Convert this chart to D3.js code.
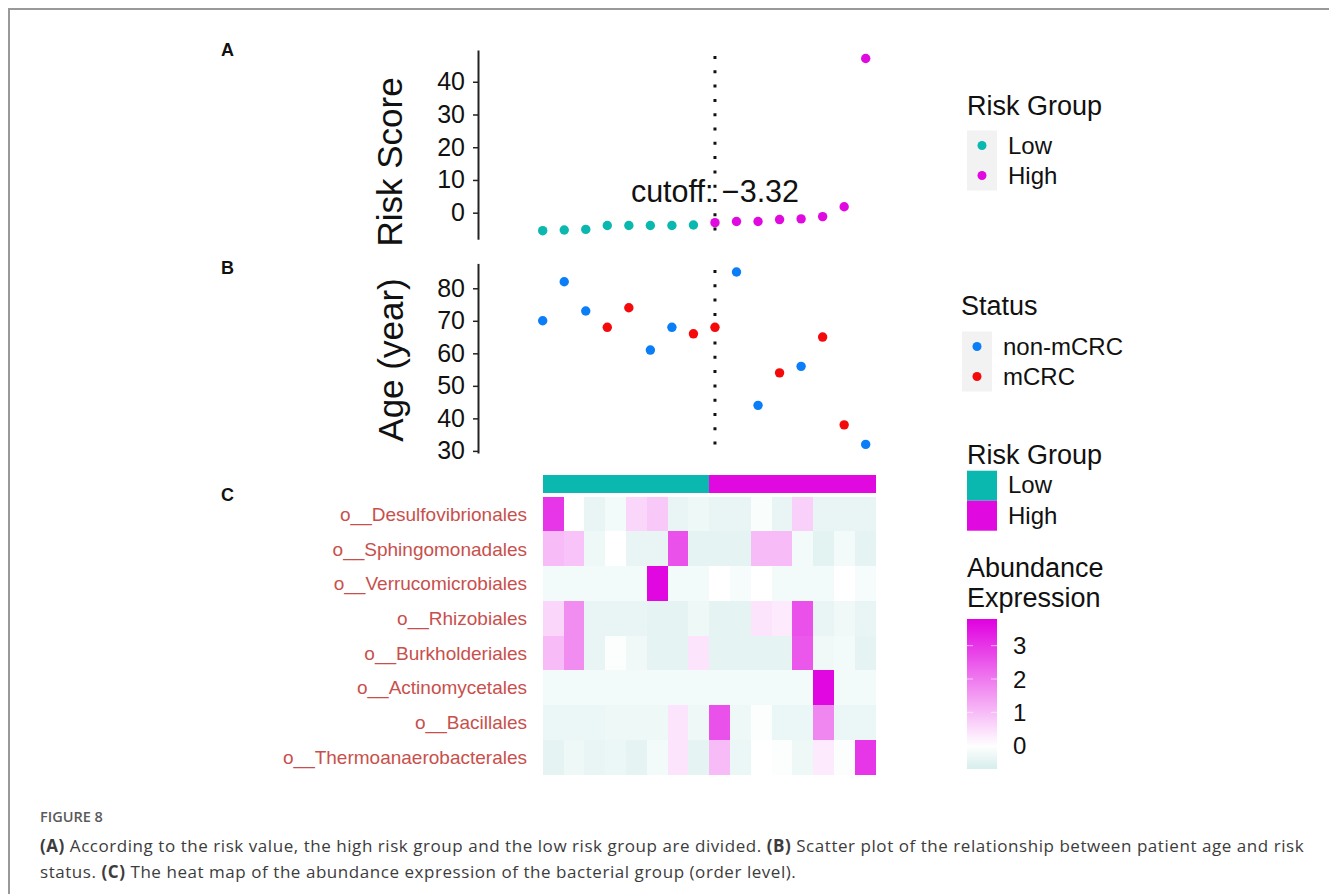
<!DOCTYPE html>
<html lang="en">
<head>
    <meta charset="UTF-8">
    <title>Figure 8 - Risk score, age and abundance heat map</title>
    <script src="https://d3js.org/d3.v7.min.js"></script>
    <style>
        body {
            margin: 0;
            background: #fff;
            font-family: "Liberation Sans", Arial, sans-serif;
        }
        .caption {
            font-family: "Open Sans", sans-serif;
        }
    </style>
</head>
<body>
    <div id="chart"></div>

    <script>
        // Samples ordered by risk score
        const riskScore = [-5.5, -5.3, -5.1, -3.9, -3.9, -3.9, -3.9, -3.75, -3.05, -2.7, -2.7, -2.1, -1.9, -1.2, 1.8, 47.1];
        const riskGroup = ["Low", "Low", "Low", "Low", "Low", "Low", "Low", "Low",
                           "High", "High", "High", "High", "High", "High", "High", "High"];
        const age = [70, 82, 73, 68, 74, 61, 68, 66, 68, 85, 44, 54, 56, 65, 38, 32];
        const status = ["non-mCRC", "non-mCRC", "non-mCRC", "mCRC", "mCRC", "non-mCRC", "non-mCRC", "mCRC",
                        "mCRC", "non-mCRC", "non-mCRC", "mCRC", "non-mCRC", "mCRC", "mCRC", "non-mCRC"];
        const cutoffValue = -3.32;
        const cutoffSample = 9;

        const riskTicks = [0, 10, 20, 30, 40];
        const ageTicks = [30, 40, 50, 60, 70, 80];
        const abundanceTicks = [0, 1, 2, 3];

        const taxa = ["o__Desulfovibrionales", "o__Sphingomonadales", "o__Verrucomicrobiales", "o__Rhizobiales",
                      "o__Burkholderiales", "o__Actinomycetales", "o__Bacillales", "o__Thermoanaerobacterales"];
        const abundance = [
            [3.0, 0.0, -0.4, -0.2, 0.6, 0.8, -0.4, -0.3, -0.4, -0.4, -0.1, -0.4, 0.7, -0.4, -0.4, -0.4],
            [1.0, 0.9, -0.3, 0.0, -0.4, -0.4, 2.6, -0.45, -0.45, -0.45, 1.0, 1.0, -0.2, -0.5, -0.2, -0.45],
            [-0.2, -0.2, -0.2, -0.2, -0.2, 3.7, -0.2, -0.2, 0.0, -0.15, 0.0, -0.2, -0.2, -0.2, 0.0, -0.15],
            [0.6, 1.7, -0.4, -0.4, -0.4, -0.45, -0.45, -0.3, -0.45, -0.45, 0.4, 0.3, 2.6, -0.4, -0.25, -0.4],
            [1.0, 1.7, -0.4, -0.05, -0.25, -0.45, -0.45, 0.4, -0.45, -0.45, -0.45, -0.45, 2.5, -0.25, -0.2, -0.45],
            [-0.2, -0.2, -0.2, -0.2, -0.2, -0.2, -0.2, -0.2, -0.2, -0.2, -0.2, -0.2, -0.2, 3.7, -0.2, -0.2],
            [-0.35, -0.35, -0.35, -0.3, -0.3, -0.3, 0.4, -0.3, 2.6, -0.3, -0.05, -0.35, -0.35, 1.8, -0.35, -0.35],
            [-0.45, -0.3, -0.4, -0.35, -0.45, -0.2, 0.4, -0.45, 1.0, -0.35, 0.0, -0.05, -0.3, 0.3, -0.05, 3.0]
        ];

        const samples = d3.range(1, riskScore.length + 1);

        const width = 1329;
        const height = 894;
        const groupColor = d3.scaleOrdinal().domain(["Low", "High"]).range(["#0bb8b0", "#e00ae0"]);
        const statusColor = d3.scaleOrdinal().domain(["non-mCRC", "mCRC"]).range(["#0a7ef6", "#f40a0a"]);
        const heatColor = d3.scaleLinear().domain([-0.7, 0, 3.8]).range(["#d6eeec", "#ffffff", "#e000e0"]);

        const svg = d3.select("#chart")
            .append("svg")
            .attr("width", width)
            .attr("height", height);

        svg.append("rect").attr("width", width).attr("height", height).attr("fill", "#fff");

        // figure frame (top + left)
        svg.append("path")
            .attr("d", `M9,${height} V9 H${width}`)
            .attr("fill", "none")
            .attr("stroke", "#999")
            .attr("stroke-width", 2);

        const axisX = 478;
        const x = d3.scaleLinear().domain([1, 16]).range([542.7, 865.7]);

        // ---------- panel A ----------
        const yRisk = d3.scaleLinear().domain([-8.1, 49.7]).range([239.2, 50]);

        const axisA = svg.append("g")
            .attr("transform", `translate(${axisX},0)`)
            .call(d3.axisLeft(yRisk).tickValues(riskTicks).tickSize(5).tickPadding(8).tickSizeOuter(0));

        svg.append("line")
            .attr("x1", x(cutoffSample)).attr("x2", x(cutoffSample))
            .attr("y1", 56).attr("y2", 240)
            .attr("stroke", "#111").attr("stroke-width", 3)
            .attr("stroke-dasharray", "3,11.3");

        svg.append("text")
            .attr("x", x(cutoffSample))
            .attr("y", 201.5)
            .attr("text-anchor", "middle")
            .attr("font-size", 30.5)
            .attr("fill", "#111")
            .text(`cutoff: ${cutoffValue}`.replace("-", "\u2212"));

        svg.append("g").selectAll("circle")
            .data(samples)
            .join("circle")
            .attr("cx", d => x(d))
            .attr("cy", d => yRisk(riskScore[d - 1]))
            .attr("r", 4.7)
            .attr("fill", d => groupColor(riskGroup[d - 1]));

        svg.append("text")
            .attr("transform", "translate(402,162) rotate(-90)")
            .attr("text-anchor", "middle")
            .attr("font-size", 35)
            .attr("fill", "#111")
            .text("Risk Score");

        // ---------- panel B ----------
        const yAge = d3.scaleLinear().domain([29.35, 87.65]).range([453, 263.4]);

        const axisB = svg.append("g")
            .attr("transform", `translate(${axisX},0)`)
            .call(d3.axisLeft(yAge).tickValues(ageTicks).tickSize(5).tickPadding(8).tickSizeOuter(0));

        [axisA, axisB].forEach(a => {
            a.select(".domain").attr("stroke", "#222").attr("stroke-width", 2);
            a.selectAll(".tick line").attr("stroke", "#222").attr("stroke-width", 1.5);
            a.selectAll(".tick text").attr("font-size", 25).attr("fill", "#111")
                .attr("font-family", "Liberation Sans, Arial, sans-serif");
        });

        svg.append("line")
            .attr("x1", x(cutoffSample)).attr("x2", x(cutoffSample))
            .attr("y1", 270).attr("y2", 453)
            .attr("stroke", "#111").attr("stroke-width", 3)
            .attr("stroke-dasharray", "3,11.3");

        svg.append("g").selectAll("circle")
            .data(samples)
            .join("circle")
            .attr("cx", d => x(d))
            .attr("cy", d => yAge(age[d - 1]))
            .attr("r", 4.7)
            .attr("fill", d => statusColor(status[d - 1]));

        svg.append("text")
            .attr("transform", "translate(403,360) rotate(-90)")
            .attr("text-anchor", "middle")
            .attr("font-size", 35)
            .attr("fill", "#111")
            .text("Age (year)");

        // ---------- panel C: heat map ----------
        const col = d3.scaleBand().domain(samples).range([542.7, 875.7]);
        const row = d3.scaleBand().domain(taxa).range([496.7, 774.3]);

        svg.append("g").attr("shape-rendering", "crispEdges").selectAll("rect")
            .data(samples)
            .join("rect")
            .attr("x", d => col(d))
            .attr("y", 475)
            .attr("width", col.bandwidth() + 0.6)
            .attr("height", 17.7)
            .attr("fill", d => groupColor(riskGroup[d - 1]));

        const cells = [];
        taxa.forEach((t, i) => samples.forEach((s, j) => cells.push({ t, s, v: abundance[i][j] })));

        svg.append("g").attr("shape-rendering", "crispEdges").selectAll("rect")
            .data(cells)
            .join("rect")
            .attr("x", d => col(d.s))
            .attr("y", d => row(d.t))
            .attr("width", col.bandwidth() + 0.6)
            .attr("height", row.bandwidth() + 0.6)
            .attr("fill", d => heatColor(d.v));

        svg.append("g").selectAll("text")
            .data(taxa)
            .join("text")
            .attr("x", 527)
            .attr("y", d => row(d) + row.bandwidth() / 2)
            .attr("dy", "0.36em")
            .attr("text-anchor", "end")
            .attr("font-size", 19)
            .attr("fill", "#c8504c")
            .text(d => d);

        // ---------- panel letters ----------
        [["A", 50], ["B", 268], ["C", 495]].forEach(([l, y]) => {
            svg.append("text")
                .attr("x", 221).attr("y", y).attr("dy", "0.36em")
                .attr("font-size", 18).attr("font-weight", "bold").attr("fill", "#111")
                .text(l);
        });

        // ---------- legends ----------
        function pointLegend(title, titleX, titleY, keyX, keyY, domain, color) {
            const g = svg.append("g");
            g.append("text").attr("x", titleX).attr("y", titleY)
                .attr("font-size", 27).attr("fill", "#111").text(title);
            g.append("rect").attr("x", keyX).attr("y", keyY).attr("width", 30).attr("height", 60)
                .attr("fill", "#f2f2f2");
            domain.forEach((d, i) => {
                g.append("circle").attr("cx", keyX + 15).attr("cy", keyY + 15 + i * 30)
                    .attr("r", 4.5).attr("fill", color(d));
                g.append("text").attr("x", keyX + 41).attr("y", keyY + 15 + i * 30).attr("dy", "0.36em")
                    .attr("font-size", 24).attr("fill", "#111").text(d);
            });
        }
        pointLegend("Risk Group", 967, 115, 967, 130.5, groupColor.domain(), groupColor);
        pointLegend("Status", 961, 315, 962, 331.5, statusColor.domain(), statusColor);

        // heat map annotation legend
        const lg = svg.append("g");
        lg.append("text").attr("x", 967).attr("y", 464).attr("font-size", 27).attr("fill", "#111").text("Risk Group");
        groupColor.domain().forEach((d, i) => {
            lg.append("rect").attr("x", 967).attr("y", 470.7 + i * 30).attr("width", 30).attr("height", 30)
                .attr("fill", groupColor(d));
            lg.append("text").attr("x", 1008).attr("y", 484.5 + i * 31).attr("dy", "0.36em")
                .attr("font-size", 24).attr("fill", "#111").text(d);
        });

        // colour bar
        lg.append("text").attr("x", 967).attr("y", 577).attr("font-size", 27).attr("fill", "#111").text("Abundance");
        lg.append("text").attr("x", 967).attr("y", 607).attr("font-size", 27).attr("fill", "#111").text("Expression");

        const yBar = d3.scaleLinear().domain([-0.7, 3.8]).range([769, 619]);
        const grad = svg.append("defs").append("linearGradient")
            .attr("id", "heatGrad").attr("x1", 0).attr("y1", 1).attr("x2", 0).attr("y2", 0);
        d3.range(0, 1.0001, 0.05).forEach(t => {
            const v = -0.7 + t * 4.5;
            grad.append("stop").attr("offset", t).attr("stop-color", heatColor(v));
        });
        lg.append("rect").attr("x", 967).attr("y", 619).attr("width", 30).attr("height", 150)
            .attr("fill", "url(#heatGrad)");
        abundanceTicks.forEach(t => {
            lg.append("line").attr("x1", 967).attr("x2", 973).attr("y1", yBar(t)).attr("y2", yBar(t))
                .attr("stroke", "#fff").attr("stroke-opacity", 0.6);
            lg.append("line").attr("x1", 991).attr("x2", 997).attr("y1", yBar(t)).attr("y2", yBar(t))
                .attr("stroke", "#fff").attr("stroke-opacity", 0.6);
            lg.append("text").attr("x", 1013).attr("y", yBar(t)).attr("dy", "0.36em")
                .attr("font-size", 24).attr("fill", "#111").text(t);
        });

        // ---------- caption ----------
        const cap = svg.append("g").attr("class", "caption").attr("fill", "#3c3c3c");
        cap.append("text").attr("x", 40).attr("y", 822).attr("font-size", 14.5).attr("font-weight", 600)
            .attr("fill", "#5a5a5a").text("FIGURE 8");
        const line1 = cap.append("text").attr("x", 40).attr("y", 852).attr("font-size", 17).attr("letter-spacing", 0.55);
        line1.append("tspan").attr("font-weight", "bold").text("(A)");
        line1.append("tspan").text(" According to the risk value, the high risk group and the low risk group are divided. ");
        line1.append("tspan").attr("font-weight", "bold").text("(B)");
        line1.append("tspan").text(" Scatter plot of the relationship between patient age and risk");
        const line2 = cap.append("text").attr("x", 40).attr("y", 878).attr("font-size", 17).attr("letter-spacing", 0.55);
        line2.append("tspan").text("status. ");
        line2.append("tspan").attr("font-weight", "bold").text("(C)");
        line2.append("tspan").text(" The heat map of the abundance expression of the bacterial group (order level).");
    </script>
</body>
</html>
